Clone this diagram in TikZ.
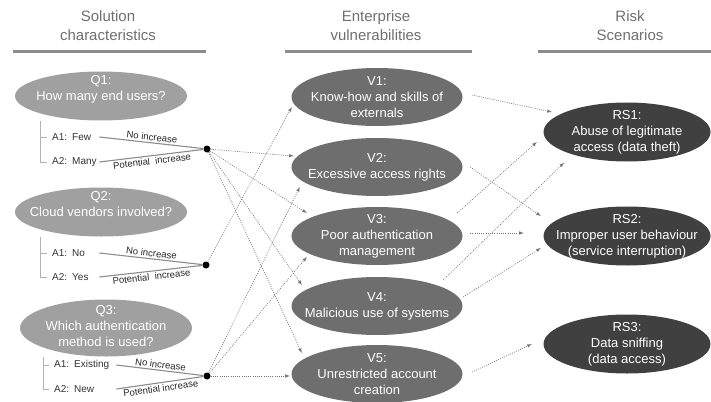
\documentclass[tikz,border=0pt]{standalone}
\usepackage{fontspec}
\setmainfont{Liberation Sans}
\usetikzlibrary{shapes.geometric}

\definecolor{qgray}{HTML}{A0A0A0}
\definecolor{vgray}{HTML}{6E6E6E}
\definecolor{rgray}{HTML}{404040}
\definecolor{hgray}{HTML}{6F6F6F}
\definecolor{lgray}{HTML}{8C8C8C}

\tikzset{
  blob/.style={ellipse, text=white, align=center, inner xsep=-20pt, inner ysep=-8pt, font=\fontsize{13}{16}\selectfont},
  qnode/.style={blob, fill=qgray, minimum width=172pt, minimum height=49pt},
  vnode/.style={blob, fill=vgray, minimum width=171pt, minimum height=58pt},
  rnode/.style={blob, fill=rgray, minimum width=167pt, minimum height=59pt},
  header/.style={align=center, text=hgray, font=\fontsize{15}{19}\selectfont},
  rulebar/.style={line width=3pt, color=lgray},
  answer/.style={anchor=west, inner sep=2pt, text width=45pt, align=left, font=\fontsize{10}{12}\selectfont, text=black!80},
  tree/.style={color=black!30, line width=0.8pt},
  link/.style={color=lgray, line width=1.1pt},
  lbl/.style={font=\fontsize{9.5}{11}\selectfont, text=black!85, inner sep=1.5pt},
  dot/.style={circle, fill=black, inner sep=0pt, minimum size=7pt},
  dep/.style={->, >=latex, color=black!55, line width=0.6pt, dash pattern=on 1pt off 1.2pt},
}

\begin{document}
\begin{tikzpicture}[x=1pt, y=-1pt]
        \useasboundingbox (0,0) rectangle (711,401);

        % column headers
        \node[header] (h1) at (108,26) {Solution\\characteristics};
        \node[header] (h2) at (376,26) {Enterprise\\vulnerabilities};
        \node[header] (h3) at (630,26) {Risk\\Scenarios};
        \draw[rulebar] (13,52) -- (206,52) (285,52) -- (472,52) (538,52) -- (711,52);

        % questions and answers
        \node[qnode, text depth=16pt] (q1) at (101,96) {Q1:\\How many end users?};
        \node[qnode, text depth=16pt] (q2) at (101,212) {Q2:\\Cloud vendors involved?};
        \node[qnode, text depth=5pt, minimum height=57pt] (q3) at (106,328) {Q3:\\Which authentication\\method is used?};

        \node[answer] (a11) at (50,137) {A1: Few};
        \node[answer] (a12) at (50,162) {A2: Many};
        \node[answer] (a21) at (50,253) {A1: No};
        \node[answer] (a22) at (50,277) {A2: Yes};
        \node[answer, text width=60pt] (a31) at (52,365) {A1: Existing};
        \node[answer, text width=60pt] (a32) at (52,389) {A2: New};

        \node[dot] (d1) at (207,149) {};
        \node[dot] (d2) at (206,265) {};
        \node[dot] (d3) at (207,376) {};

        \draw[tree] ([xshift=-10pt]a11.west |- q1.south) -- ([xshift=-10pt]a12.west) -- ([xshift=-3pt]a12.west);
        \draw[tree] ([xshift=-10pt]a11.west) -- ([xshift=-3pt]a11.west);
        \draw[tree] ([xshift=-10pt]a21.west |- q2.south) -- ([xshift=-10pt]a22.west) -- ([xshift=-3pt]a22.west);
        \draw[tree] ([xshift=-10pt]a21.west) -- ([xshift=-3pt]a21.west);
        \draw[tree] ([xshift=-9pt]a31.west |- q3.south) -- ([xshift=-9pt]a32.west) -- ([xshift=-3pt]a32.west);
        \draw[tree] ([xshift=-9pt]a31.west) -- ([xshift=-3pt]a31.west);

        \draw[link] (a11.east) -- (d1) node[midway, above, sloped, lbl] {No increase};
        \draw[link] (a12.east) -- (d1) node[midway, below, sloped, lbl] {Potential\ \ increase};
        \draw[link] (a21.east) -- (d2) node[midway, above, sloped, lbl] {No increase};
        \draw[link] (a22.east) -- (d2) node[midway, below, sloped, lbl] {Potential\ \ increase};
        \draw[link] (a31.east) -- (d3) node[midway, above, sloped, lbl] {No increase};
        \draw[link] (a32.east) -- (d3) node[midway, below, sloped, lbl] {Potential increase};

        % vulnerabilities
        \node[vnode] (v1) at (377,97) {V1:\\Know-how and skills of\\externals};
        \node[vnode] (v2) at (377,167) {V2:\\Excessive access rights};
        \node[vnode] (v3) at (377,236) {V3:\\Poor authentication\\management};
        \node[vnode] (v4) at (377,306) {V4:\\Malicious use of systems};
        \node[vnode] (v5) at (377,374) {V5:\\Unrestricted account\\creation};

        % risk scenarios
        \node[rnode] (r1) at (627,132) {RS1:\\Abuse of legitimate\\access (data theft)};
        \node[rnode] (r2) at (627,236) {RS2:\\Improper user behaviour\\(service interruption)};
        \node[rnode] (r3) at (627,344) {RS3:\\Data sniffing\\(data access)};

        % answers -> vulnerabilities
        \draw[dep] (d1) -- ([shift={(2.5,-11)}]v2.west);
        \draw[dep] (d1) -- ([shift={(15.5,-23)}]v3.west);
        \draw[dep] (d1) -- ([shift={(10.5,-21)}]v4.west);
        \draw[dep] (d1) -- ([shift={(10.5,-21)}]v5.west);
        \draw[dep] (d2) -- ([shift={(0.5,10)}]v1.west);
        \draw[dep] (d3) -- ([shift={(8.5,20)}]v2.west);
        \draw[dep] (d3) -- ([shift={(15.5,21)}]v3.west);
        \draw[dep] (d3) -- ([shift={(-1.5,2)}]v5.west);

        % vulnerabilities -> risk scenarios
        \draw[dep] ([shift={(9.5,-2)}]v1.east) -- ([shift={(8.5,-20)}]r1.west);
        \draw[dep] ([shift={(7.5,0)}]v2.east) -- ([shift={(-2.5,-20)}]r2.west);
        \draw[dep] ([shift={(-5.5,-23)}]v3.east) -- ([shift={(-6.5,10)}]r1.west);
        \draw[dep] ([shift={(7.5,-3)}]v3.east) -- ([shift={(-19.5,-3)}]r2.west);
        \draw[dep] ([shift={(-19.5,-26)}]v4.east) -- ([shift={(-63,1)}]r1.south);
        \draw[dep] ([shift={(0.5,-9)}]v4.east) -- ([shift={(-2.5,12)}]r2.west);
        \draw[dep] ([shift={(9.5,-2)}]v5.east) -- ([shift={(-11.5,0)}]r3.west);

\end{tikzpicture}
\end{document}
